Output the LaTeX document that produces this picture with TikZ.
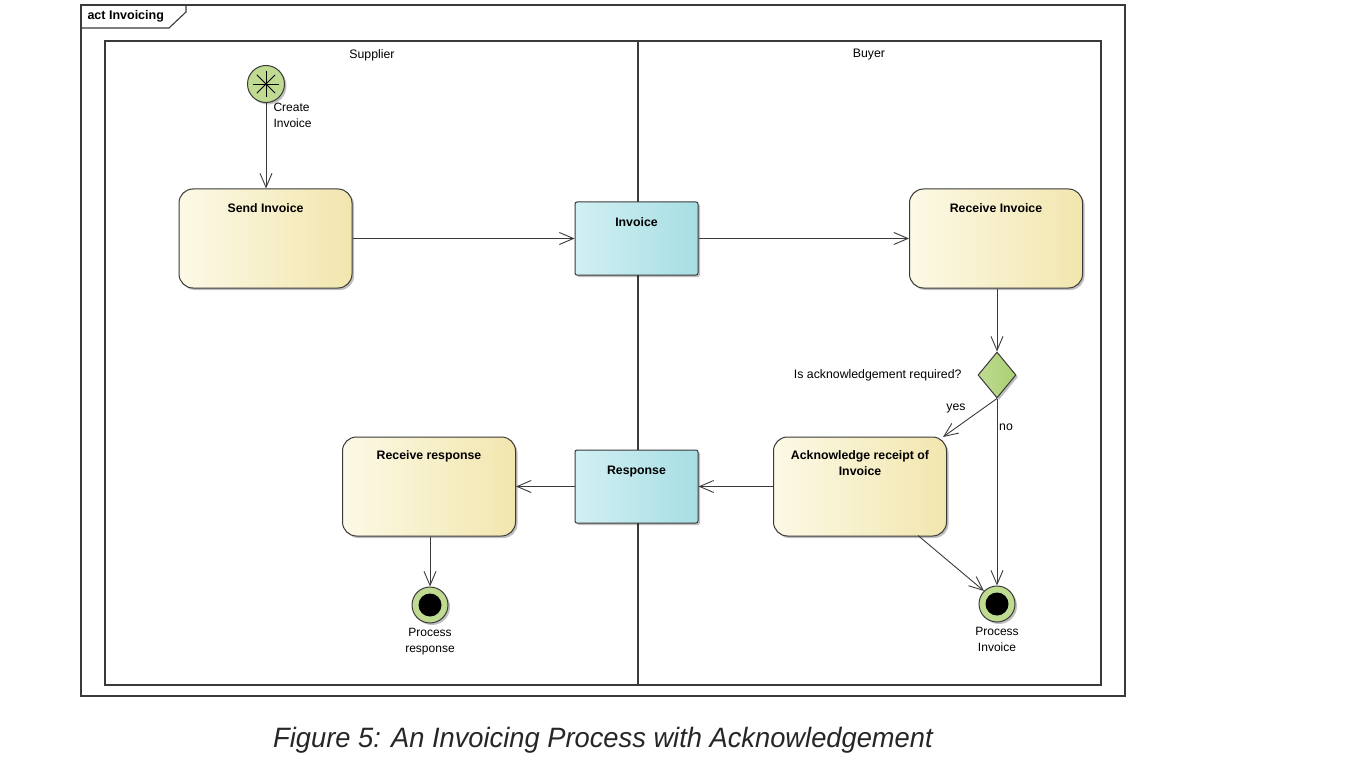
\documentclass[tikz,border=0pt]{standalone}
\usepackage{fontspec}
\setmainfont{Liberation Sans}
\usetikzlibrary{arrows.meta,shapes.geometric,shadows,calc}
\definecolor{lineC}{HTML}{3A3A3A}
\definecolor{yelL}{HTML}{FCF9E6}
\definecolor{yelR}{HTML}{F2E6AE}
\definecolor{cyaL}{HTML}{D2F0F3}
\definecolor{cyaR}{HTML}{A6DEE4}
\definecolor{grnF}{HTML}{BFDB92}
\definecolor{grnD}{HTML}{A9CF73}
\tikzset{
  every node/.style={font=\fontsize{12.3}{14}\selectfont, text=black},
  conn/.style={draw=lineC, line width=0.9pt, -{Straight Barb[length=14pt,width=12pt,line width=0.9pt]}},
  shad/.style={drop shadow={shadow xshift=2pt,shadow yshift=-2pt,opacity=0.25,fill=black}},
  action/.style={draw=lineC, line width=1pt, rounded corners=14pt, left color=yelL, right color=yelR, shad, minimum width=173pt, minimum height=99pt, inner sep=0pt},
  objnode/.style={draw=lineC, line width=1pt, rounded corners=2pt, left color=cyaL, right color=cyaR, shad, minimum width=123pt, minimum height=73pt, inner sep=0pt},
  ttl/.style={font=\fontsize{12.3}{16}\selectfont\bfseries, align=center, anchor=north},
  small/.style={font=\fontsize{12}{16}\selectfont, align=center},
  finalnode/.style={circle, draw=lineC, line width=1pt, fill=grnF, minimum size=36pt, inner sep=0pt, shad},
}
\begin{document}
\begin{tikzpicture}[x=1pt,y=-1pt]
\useasboundingbox (0,0) rectangle (1353,765);
% frame
\draw[lineC, line width=1.3pt] (81,5) rectangle (1125,696);
\draw[lineC, line width=1.1pt] (81,28) -- (169,28) -- (186,12) -- (186,5);
\node[anchor=west, font=\fontsize{12.5}{14}\selectfont\bfseries] (frametitle) at (84,16.5) {act Invoicing};
% swimlanes
\draw[lineC, line width=1.1pt] (105,41) rectangle (1101,685);
\draw[lineC, line width=1.1pt] (638,41) -- (638,685);
\node (supplier) at (372,55) {Supplier};
\node (buyer) at (869,55) {Buyer};

% initial node
\node[circle, draw=lineC, line width=1pt, fill=grnF, minimum size=37pt, inner sep=0pt, shad] (init) at (266,84) {};
\foreach \a in {0,45,90,135}{
  \draw[black, line width=0.8pt] ($(init.center)+(\a:13pt)$) -- ($(init.center)+(\a+180:13pt)$);
}
\node[small, anchor=north west, align=left] (initlbl) at (270,100) {Create\\Invoice};

% actions
\node[action] (send) at (265.5,238.5) {};
\node[ttl] at (send.north) [yshift=-11.5pt] {Send Invoice};
\node[objnode] (invoice) at (636.5,238.5) {};
\node[ttl] at (invoice.north) [yshift=-13pt] {Invoice};
\node[action] (recv) at (996,238.5) {};
\node[ttl] at (recv.north) [yshift=-11.5pt] {Receive Invoice};

\node[diamond, draw=lineC, line width=1pt, left color=grnF, right color=grnD, minimum width=38pt, minimum height=46pt, inner sep=0pt, shad] (dec) at (997,375) {};
\node[anchor=east] (declbl) at (965,375) {Is acknowledgement required?};

\node[action] (ack) at (860,486.5) {};
\node[ttl] at (ack.north) [yshift=-10.5pt] {Acknowledge receipt of\\Invoice};
\node[objnode] (resp) at (636.5,486.5) {};
\node[ttl] at (resp.north) [yshift=-13pt] {Response};
\node[action] (rresp) at (429,486.5) {};
\node[ttl] at (rresp.north) [yshift=-11pt] {Receive response};

% final nodes
\node[finalnode] (fin1) at (430,605) {};
\fill[black] (fin1.center) circle (11.5pt);
\node[small, anchor=north] (fin1lbl) at (430,625) {Process\\response};
\node[finalnode] (fin2) at (997,604) {};
\fill[black] (fin2.center) circle (11.5pt);
\node[small, anchor=north] (fin2lbl) at (997,624) {Process\\Invoice};

% connectors
\draw[conn] (init) -- (init |- send.north);
\draw[conn] (send.east) -- (invoice.west);
\draw[conn] (invoice.east) -- (recv.west);
\draw[conn] (recv.south -| dec) -- (dec.north);
\coordinate (ackin) at (943,437);
\draw[conn] (dec.south) -- (ackin);
\node (yeslbl) at (956,408) {yes};
\draw[conn] (dec.south) -- (fin2.north);
\node (nolbl) at (1006,427) {no};
\coordinate (ackout) at (918,535.5);
\draw[conn] (ackout) -- (fin2.north west);
\draw[conn] (ack.west) -- (resp.east);
\draw[conn] (resp.west) -- (rresp.east);
\draw[conn] (rresp.south -| fin1) -- (fin1.north);

% caption
\node[font=\fontsize{28}{32}\selectfont\itshape, text=black!85] (caption) at (603,740) {\scalebox{0.975}[1]{Figure 5: An Invoicing Process with Acknowledgement}};
\end{tikzpicture}
\end{document}
